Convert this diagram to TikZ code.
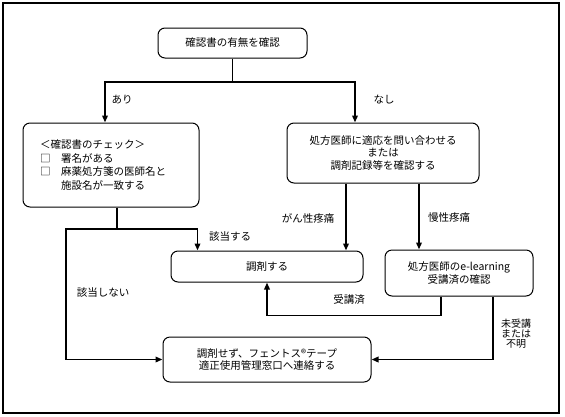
\documentclass[tikz,border=0pt]{standalone}
\usepackage{fontspec}
\setmainfont{Noto Sans CJK JP}
\usetikzlibrary{positioning, arrows.meta}

\begin{document}
\begin{tikzpicture}[
    x=1pt, y=-1pt,
    >={Triangle[length=7pt, width=5.5pt]},
    box/.style={draw, rounded corners=7pt, line width=1pt, align=center,
        font=\fontsize{10.5}{12.5}\selectfont},
    flow/.style={->, line width=1.8pt},
    link/.style={line width=1.8pt},
    lbl/.style={inner sep=0pt, font=\fontsize{10.5}{12.5}\selectfont}
]
    \useasboundingbox (0,0) rectangle (565,416);
    \draw[line width=1.8pt] (3,3) rectangle (559,413);

    % Boxes
    \node[box, minimum width=149pt, minimum height=30pt] (confirm) at (232.5,43) {確認書の有無を確認};
    \node[box, align=left, text width=142pt, inner xsep=17pt, minimum height=84pt,
        font=\fontsize{10.5}{13.5}\selectfont] (check) at (111,165)
        {＜確認書のチェック＞\\□\quad 署名がある\\□\quad 麻薬処方箋の医師名と\\\phantom{□\quad}施設名が一致する};
    \node[box, minimum width=192pt, minimum height=60pt] (inquire) at (383,153)
        {処方医師に適応を問い合わせる\\または\\調剤記録等を確認する};
    \node[box, minimum width=192pt, minimum height=31pt] (dispense) at (267,266.5) {調剤する};
    \node[box, minimum width=148pt, minimum height=46pt] (elearn) at (459,273) {処方医師のe-learning\\受講済の確認};
    \node[box, minimum width=208pt, minimum height=45pt] (contact) at (267,359.5)
        {調剤せず、フェントス®テープ\\適正使用管理窓口へ連絡する};

    % Branch points
    \coordinate (split) at (232.5,82);
    \coordinate (fork) at (117,229);
    \coordinate (side) at (66,229);

    % Confirmation: yes / no
    \draw[link] (confirm) -- (split);
    \draw[flow] (split) -| ([xshift=-6pt]check.north);
    \draw[flow] (split) -| ([xshift=-28pt]inquire.north);
    \node[lbl] (yes) at (122,100) {あり};
    \node[lbl] (no) at (384,100) {なし};

    % Checklist result
    \draw[link] ([xshift=6pt]check.south) -- (fork);
    \draw[flow] (fork) -| ([xshift=27pt]dispense.north west);
    \draw[flow] (fork) -- (side) |- (contact.west);
    \node[lbl] (match) at (230,237) {該当する};
    \node[lbl] (nomatch) at (103,293) {該当しない};

    % Pain type
    \draw[flow] ([xshift=-37pt]inquire.south) -- ([xshift=-37pt]inquire.south |- dispense.north);
    \draw[flow] ([xshift=36pt]inquire.south) -- ([xshift=36pt]inquire.south |- elearn.north);
    \node[lbl] (cancer) at (308,218) {がん性疼痛};
    \node[lbl] (chronic) at (449,218) {慢性疼痛};

    % e-learning check
    \draw[flow] ([xshift=-18pt]elearn.south) |- ([yshift=-33pt]dispense.south) -- (dispense.south);
    \draw[flow] ([xshift=34pt]elearn.south) |- (contact.east);
    \node[lbl] (taken) at (349,300) {受講済};
    \node[lbl, align=center, font=\fontsize{10}{10}\selectfont] (nottaken) at (516,334) {未受講\\または\\不明};
\end{tikzpicture}
\end{document}
